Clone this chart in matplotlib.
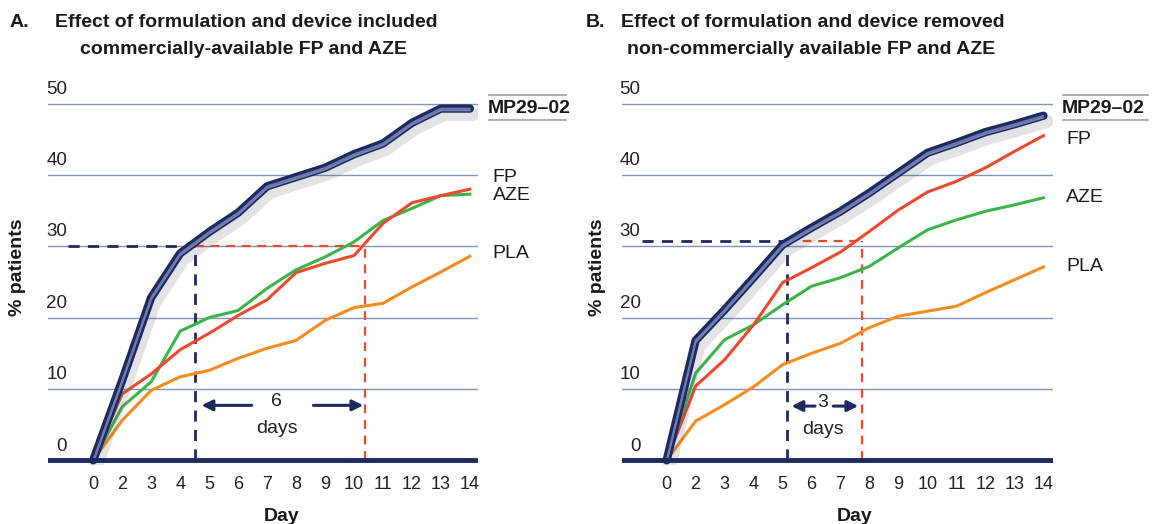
import numpy as np
import matplotlib
matplotlib.use('Agg')
import matplotlib.pyplot as plt
import matplotlib.patheffects as pe

plt.rcParams['font.family'] = ['Liberation Sans', 'DejaVu Sans']

# Données (% de patients par jour)
jours = ['0', '2', '3', '4', '5', '6', '7', '8', '9', '10', '11', '12', '13', '14']
graduations_y = [0, 10, 20, 30, 40, 50]

# Panneau A
a_mp = [0, 11.2, 22.8, 29.0, 32.0, 34.7, 38.4, 39.7, 41.0, 42.9, 44.4, 47.3, 49.3, 49.3]
a_fp = [0, 9.3, 12.1, 15.5, 17.8, 20.3, 22.5, 26.3, 27.6, 28.7, 33.2, 36.1, 37.1, 38.0]
a_aze = [0, 7.5, 11.0, 18.1, 20.0, 21.0, 24.1, 26.7, 28.5, 30.6, 33.6, 35.3, 37.1, 37.3]
a_pla = [0, 5.6, 9.8, 11.7, 12.6, 14.3, 15.7, 16.8, 19.6, 21.4, 22.0, 24.3, 26.4, 28.6]

# Panneau B
b_mp = [0, 16.8, 21.1, 25.6, 30.2, 32.6, 34.9, 37.5, 40.3, 43.1, 44.5, 46.0, 47.1, 48.3]
b_fp = [0, 10.4, 14.1, 19.0, 24.9, 27.0, 29.2, 32.1, 35.1, 37.6, 39.1, 41.0, 43.3, 45.5]
b_aze = [0, 12.2, 16.9, 19.0, 21.8, 24.4, 25.6, 27.2, 29.8, 32.3, 33.7, 34.9, 35.8, 36.8]
b_pla = [0, 5.5, 7.8, 10.3, 13.4, 15.0, 16.4, 18.6, 20.2, 20.9, 21.6, 23.5, 25.3, 27.1]

titres = [('A.', 'Effect of formulation and device included', 'commercially-available FP and AZE'),
          ('B.', 'Effect of formulation and device removed', 'non-commercially available FP and AZE')]

# Couleurs
navy = '#1c2a5e'
rouge = '#ec4a2f'
vert = '#3bb44a'
orange = '#f68b1f'
grille = '#8292b8'
texte = '#1a1a1a'

fig = plt.figure(figsize=(11.52, 5.24), dpi=100)


def panneau(rect, xlim, mp, fp, aze, pla, seuil, x_mp, x_fp, fleches, nb_jours,
            pos_labels, fin_trait, titre, xt):
    ax = fig.add_axes(rect)
    x = np.arange(len(jours))
    ax.set_xlim(*xlim)
    ax.set_ylim(-0.6, 51.2)
    for s in ax.spines.values():
        s.set_visible(False)
    ax.set_yticks([])
    ax.set_xticks(x)
    ax.set_xticklabels(jours, fontsize=13, color='#222222')
    ax.tick_params(axis='x', length=0, pad=8)

    # grille horizontale
    for g in graduations_y[1:]:
        ax.axhline(g, color=grille, lw=1.0, zorder=1)
    ax.axhline(0, color=navy, lw=3.5, zorder=6)
    for g in graduations_y:
        ax.text(-0.9, g + 2.0, str(g), ha='right', va='center', fontsize=13.5,
                color='#222222')

    # lignes en tirets
    tirets = (0, (4, 3))
    ax.plot([xlim[0] + 0.7, x_mp], [seuil, seuil], color=navy, lw=2, ls=tirets, zorder=3)
    ax.plot([x_mp, x_fp], [seuil, seuil], color=rouge, lw=1.6, ls=tirets, zorder=3)
    ax.plot([x_mp, x_mp], [0, seuil], color=navy, lw=2, ls=tirets, zorder=3)
    ax.plot([x_fp, x_fp], [0, seuil], color=rouge, lw=1.6, ls=tirets, zorder=3)

    # courbes
    ax.plot(x, pla, color=orange, lw=2.2, zorder=4)
    ax.plot(x, aze, color=vert, lw=2.2, zorder=4)
    ax.plot(x, fp, color=rouge, lw=2.2, zorder=4)
    ax.plot(x, mp, color='#6f78ae', lw=1.3, zorder=5, solid_capstyle='round',
            path_effects=[pe.SimpleLineShadow(offset=(2, -4), shadow_color='#555555',
                                              alpha=0.16, linewidth=10),
                          pe.Stroke(linewidth=6, foreground=navy, capstyle='round'),
                          pe.Stroke(linewidth=1.4, foreground='#7a83b8', offset=(0, -1.3)),
                          pe.Normal()])

    # flèches et texte "N days"
    (xl0, xl1), (xr0, xr1), ya, xc = fleches
    for a, b in [(xl0, xl1), (xr0, xr1)]:
        ax.annotate('', xy=(b, ya), xytext=(a, ya),
                    arrowprops=dict(arrowstyle='-|>', color=navy, lw=2.2,
                                    mutation_scale=16, shrinkA=0, shrinkB=0))
    ax.text(xc, ya + 0.5, nb_jours, ha='center', va='center', fontsize=14, color='#222222')
    ax.text(xc, ya - 3.3, 'days', ha='center', va='center', fontsize=14, color='#222222')

    # étiquettes des séries
    noms = ['MP29\u201302', 'FP', 'AZE', 'PLA']
    for nom, (px, py) in zip(noms, pos_labels):
        ax.text(px, py, nom, ha='left', va='center', fontsize=14,
                fontweight='bold' if nom.startswith('MP') else 'normal',
                color=texte, clip_on=False)
    lx = pos_labels[0][0]
    for yy in (51.2, 47.7):
        ax.plot([lx + 0.05, fin_trait], [yy, yy], color='#a0a0a0', lw=1.2, clip_on=False)

    ax.set_xlabel('Day', fontsize=14, fontweight='bold', color=texte)
    ax.xaxis.set_label_coords((6.5 - xlim[0]) / (xlim[1] - xlim[0]), -0.117)

    # titre
    lettre, l1, l2 = titre
    x0, x1, xm = xt
    fig.text(x0 / 1152, 1 - 27 / 524, lettre, fontsize=14, fontweight='bold',
             va='baseline', color=texte)
    fig.text(x1 / 1152, 1 - 27 / 524, l1, fontsize=14, fontweight='bold',
             va='baseline', color=texte)
    fig.text(xm / 1152, 1 - 54 / 524, l2, fontsize=14, fontweight='bold',
             va='baseline', ha='center', color=texte)
    return ax


bas, haut = 0.1134, 0.7053
panneau([48 / 1152, bas, 430 / 1152, haut], (-1.56, 13.28), a_mp, a_fp, a_aze, a_pla,
        30.0, 3.50, 9.38,
        ((5.47, 3.74), (7.60, 9.32), 7.7, 6.33), '6',
        [(13.6, 49.3), (13.79, 39.7), (13.79, 37.1), (13.79, 29.0)], 16.3,
        titres[0], (10, 55, 244))
panneau([621.7 / 1152, bas, 431.6 / 1152, haut], (-1.55, 13.34), b_mp, b_fp, b_aze, b_pla,
        30.7, 4.14, 6.73,
        ((5.12, 4.31), (5.75, 6.61), 7.6, 5.38), '3',
        [(13.63, 49.3), (13.78, 44.9), (13.78, 36.8), (13.78, 27.1)], 16.6,
        titres[1], (586, 621, 811))

fig.text(18 / 1152, 1 - 267 / 524, '% patients', rotation=90, fontsize=14,
         fontweight='bold', ha='center', va='center', color=texte)
fig.text(597 / 1152, 1 - 267 / 524, '% patients', rotation=90, fontsize=14,
         fontweight='bold', ha='center', va='center', color=texte)

fig.savefig('out.png', dpi=100)
